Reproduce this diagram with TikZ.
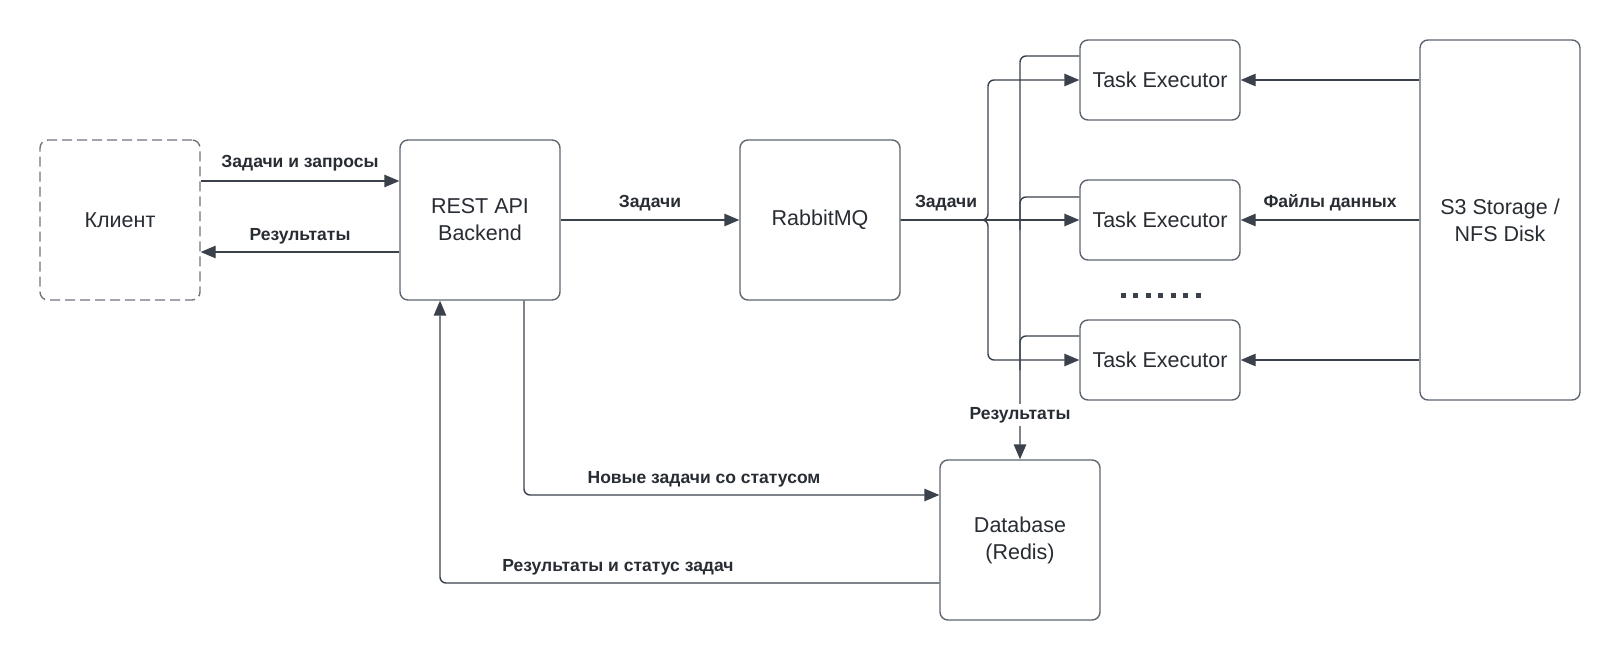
\documentclass[tikz,border=0pt]{standalone}
\usepackage{fontspec}
\setmainfont{Liberation Sans}
\usetikzlibrary{arrows.meta}
\definecolor{ln}{HTML}{3A414A}
\definecolor{bx}{HTML}{5F6670}
\definecolor{dsh}{HTML}{70757E}
\definecolor{tx}{HTML}{282C33}
\begin{document}
\begin{tikzpicture}[x=1pt,y=-1pt,
  box/.style={draw=bx, line width=1.4pt, rounded corners=8pt, inner sep=0pt, align=center, text=tx, font=\fontsize{21.5}{27}\selectfont},
  conn/.style={draw=ln, line width=1.4pt},
  arr/.style={conn, -{Triangle[length=15pt,width=12.5pt]}},
  lbl/.style={text=tx, font=\bfseries\fontsize{17.5}{20}\selectfont, inner sep=1pt}]
\path[use as bounding box, fill=white] (0,0) rectangle (1620,660);

% nodes
\node[box, draw=dsh, dash pattern=on 10pt off 5pt, minimum width=160pt, minimum height=160pt] (kl) at (120,220) {Клиент};
\node[box, minimum width=160pt, minimum height=160pt] (api) at (480,220) {REST API\\Backend};
\node[box, minimum width=160pt, minimum height=160pt] (mq) at (820,220) {RabbitMQ};
\node[box, minimum width=160pt, minimum height=80pt] (te1) at (1160,80) {Task Executor};
\node[box, minimum width=160pt, minimum height=80pt] (te2) at (1160,220) {Task Executor};
\node[box, minimum width=160pt, minimum height=80pt] (te3) at (1160,360) {Task Executor};
\node[box, minimum width=160pt, minimum height=360pt] (s3) at (1500,220) {S3 Storage /\\NFS Disk};
\node[box, minimum width=160pt, minimum height=160pt] (db) at (1020,540) {Database\\(Redis)};

% dots
\foreach \i in {0,...,6} \fill[ln] (1120.5+12.5*\i,293.5) rectangle +(5,5);

% client <-> api
\draw[arr] (kl.east |- 0,181) -- (api.west |- 0,181);
\draw[arr] (api.west |- 0,252) -- (kl.east |- 0,252);
\node[lbl] (l1) at (300,163) {Задачи и запросы};
\node[lbl] (l2) at (300,236) {Результаты};

% api -> mq
\draw[arr] (api.east) -- (mq.east -| mq.west);
\node[lbl] (l3) at (650,203) {Задачи};

% mq -> executors
\coordinate (fj) at (988,220);
\draw[arr] (mq.east) -- (te2.west);
\draw[arr, rounded corners=6pt] (mq.east) -- (fj) |- (te1.west);
\draw[arr, rounded corners=6pt] (mq.east) -- (fj) |- (te3.west);
\node[lbl] (l4) at (946,203) {Задачи};

% s3 -> executors
\draw[arr] (s3.west |- te1) -- (te1.east);
\draw[arr] (s3.west |- te2) -- (te2.east);
\draw[arr] (s3.west |- te3) -- (te3.east);
\node[lbl] (l5) at (1330,203) {Файлы данных};

% executors -> db
\draw[arr, rounded corners=6pt] (te1.west |- 0,56) -| (db.north);
\draw[conn, rounded corners=6pt] (te2.west |- 0,197) -| (1020,230);
\draw[conn, rounded corners=6pt] (te3.west |- 0,336) -| (1020,370);
\node[lbl, fill=white, inner sep=3pt] (l6) at (1020,415) {Результаты};

% api <-> db
\draw[arr, rounded corners=6pt] (api.south -| 524,0) -- (524,495) -- (db.west |- 0,495);
\node[lbl] (l7) at (704,479) {Новые задачи со статусом};
\draw[arr, rounded corners=6pt] (db.west |- 0,583) -| (api.south -| 440,0);
\node[lbl] (l8) at (618,567) {Результаты и статус задач};
\end{tikzpicture}
\end{document}
